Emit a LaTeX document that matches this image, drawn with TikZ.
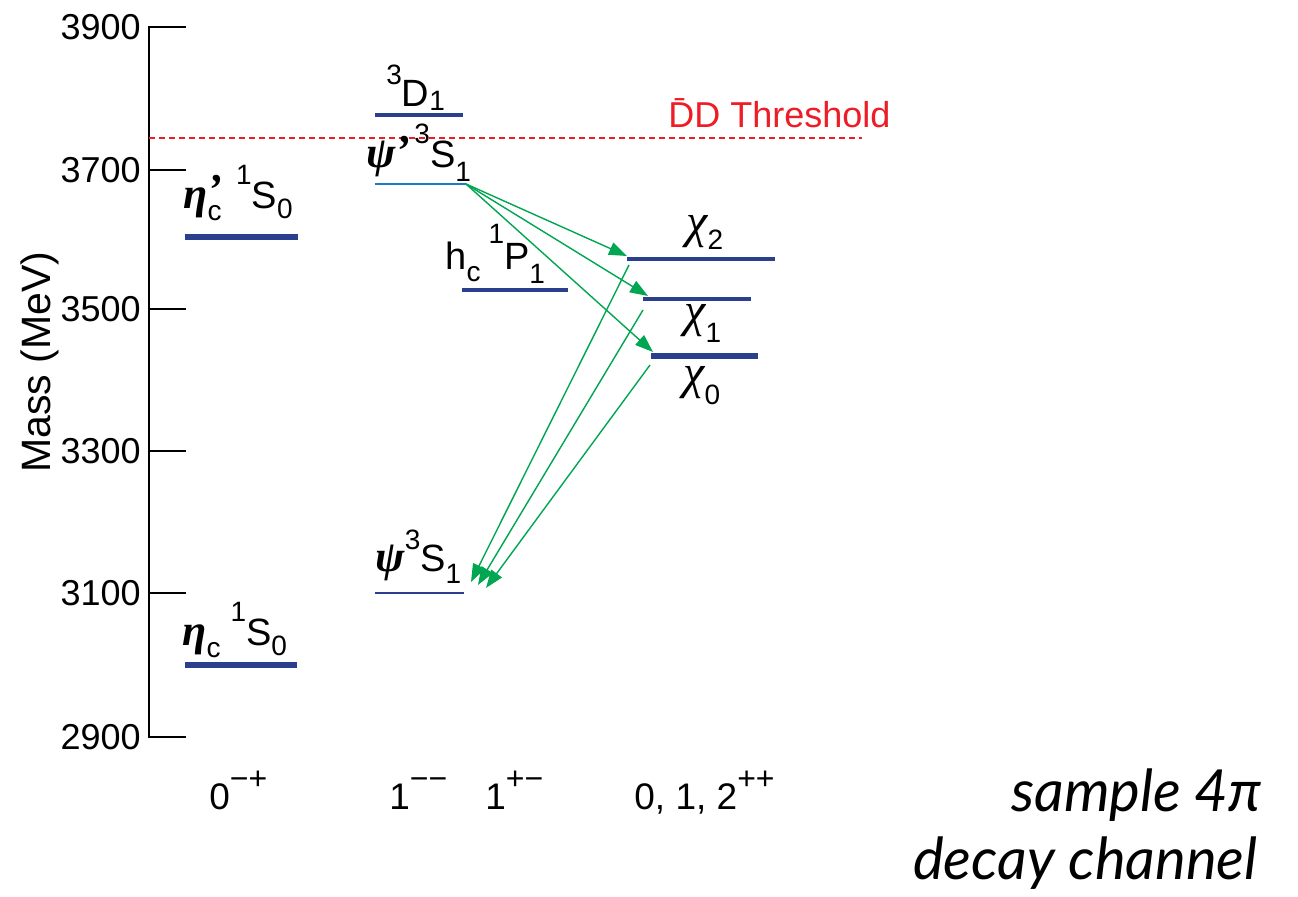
\documentclass[tikz,border=0pt]{standalone}
\usepackage{fontspec}
\setmainfont{Liberation Sans}
\newfontfamily\grk{Liberation Serif}
\newfontfamily\gill{Lato}
\usetikzlibrary{arrows.meta}
\definecolor{lvl}{HTML}{2B3F8F}
\definecolor{lvlb}{HTML}{1B7BC4}
\definecolor{grn}{HTML}{00A651}
\definecolor{thr}{HTML}{EE1C25}
\newcommand\scr{\fontsize{14}{14}\selectfont}
\newcommand\Up[2][12pt]{\raisebox{#1}{\scr #2}}
\newcommand\Dn[2][6pt]{\raisebox{-#1}{\scr #2}}
\newcommand\gk[1]{{\fontsize{22}{22}\selectfont\grk\bfseries\itshape #1}}
\newcommand\gkr[1]{{\fontsize{24}{24}\selectfont\grk\itshape #1}}
\newcommand\jsc[1]{\raisebox{10pt}{\fontsize{16}{16}\selectfont #1}}
\begin{document}
\begin{tikzpicture}[x=0.5pt,y=-0.5pt,
  font=\fontsize{19}{19}\selectfont,
  lab/.style={anchor=base west, inner sep=0pt},
  tick/.style={anchor=east, inner sep=0pt, font=\fontsize{18}{18}\selectfont},
  jpc/.style={anchor=base west, inner sep=0pt, font=\fontsize{18.5}{18.5}\selectfont},
  decay/.style={draw=grn, line width=0.7pt, -{Triangle[length=9pt,width=6.5pt]}}]
\useasboundingbox (0,0) rectangle (1298,897);
% axis
\draw[line width=1pt] (186,27) -- (149,27) -- (149,737) -- (186,737);
\foreach \m/\y in {3900/27,3700/170,3500/309,3300/451,3100/593,2900/737}{
  \draw[line width=1pt] (149,\y) -- (186,\y);
  \node[tick] (t\m) at (141,\y) {\m};
}
\node[rotate=90, inner sep=0pt, font=\fontsize{20.5}{20.5}\selectfont] (ylab) at (40,362) {Mass (MeV)};
% threshold
\draw[thr, dash pattern=on 3pt off 2pt, line width=0.6pt] (149,138) -- (862,138);
\node[lab, text=thr, font=\fontsize{18}{18}\selectfont] (thrlab) at (668,128) {\=DD Threshold};
% levels
\draw[lvl, line width=2.8pt] (185,237) -- (298,237);
\draw[lvl, line width=2.8pt] (185,665) -- (297,665);
\draw[lvl, line width=2.2pt] (375,115) -- (463,115);
\draw[lvlb, line width=0.9pt] (375,184) -- (466,184);
\draw[lvl, line width=0.8pt] (375,593) -- (464,593);
\draw[lvl, line width=1.6pt] (462,290) -- (568,290);
\draw[lvl, line width=1.6pt] (627,259) -- (775,259);
\draw[lvl, line width=1.6pt] (643,299) -- (751,299);
\draw[lvl, line width=3.3pt] (651,356) -- (758,356);
% labels
\node[lab] (Dlab) at (386,107) {\Up[11pt]{3}D\Dn[2pt]{1}};
\node[lab] (psiplab) at (366,168) {\gk{ψ}\raisebox{1pt}{\gk{’}}\hspace{2pt}\Up[12pt]{3}S\Dn[7pt]{1}};
\node[lab] (etaplab) at (183,209) {\gk{η}\rlap{\Dn[6pt]{c}}\raisebox{2pt}{\gk{’}}\hspace{7pt}\Up{1}S\Dn[5pt]{0}};
\node[lab] (hclab) at (445,270) {h\Dn[6pt]{c}\hspace{4pt}\Up[13pt]{1}P\Dn[7pt]{1}};
\node[lab] (chi2lab) at (686,238) {\gkr{χ}\Dn[6pt]{2}};
\node[lab] (chi1lab) at (684,327) {\gkr{χ}\Dn[8pt]{1}};
\node[lab] (chi0lab) at (683,389) {\gkr{χ}\Dn[8pt]{0}};
\node[lab] (psilab) at (375,572) {\gk{ψ}\Up[11pt]{3}S\Dn[6pt]{1}};
\node[lab] (etalab) at (182,646) {\gk{η}\Dn[6pt]{c}\hspace{5pt}\Up{1}S\Dn[5pt]{0}};
% JPC
\node[jpc] (j0) at (209,810) {0\jsc{−+}};
\node[jpc] (j1) at (389,810) {1\jsc{−−}};
\node[jpc] (j2) at (485,810) {1\jsc{+−}};
\node[jpc] (j3) at (634,810) {0, 1, 2\jsc{++}};
% transitions
\coordinate (psip) at (466,184);
\coordinate (c2in) at (627,256);
\coordinate (c1in) at (648,296);
\coordinate (c0in) at (653,352);
\coordinate (c2out) at (629,265);
\coordinate (c1out) at (643,310);
\coordinate (c0out) at (650,365);
\coordinate (psi2) at (471,582);
\coordinate (psi1) at (478,585);
\coordinate (psi0) at (486,588);
\draw[decay] (psip) -- (c2in);
\draw[decay] (psip) -- (c1in);
\draw[decay] (psip) -- (c0in);
\draw[decay] (c2out) -- (psi2);
\draw[decay] (c1out) -- (psi1);
\draw[decay] (c0out) -- (psi0);
% note
\node[anchor=base east, inner sep=0pt, font=\gill\itshape\fontsize{29}{29}\selectfont] (note1) at (1262,812) {sample 4π};
\node[anchor=base east, inner sep=0pt, font=\gill\itshape\fontsize{29}{29}\selectfont] (note2) at (1258,880) {decay channel};
\end{tikzpicture}
\end{document}
